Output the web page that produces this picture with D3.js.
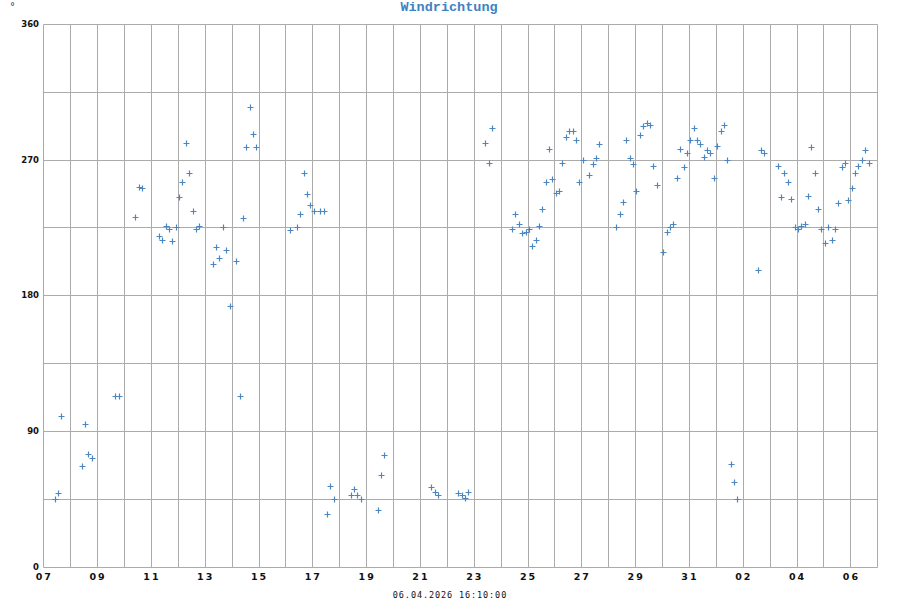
<!DOCTYPE html>
<html>
<head>
<meta charset="utf-8">
<script src="https://cdn.jsdelivr.net/npm/d3@7"></script>
<style>
  html, body { margin: 0; padding: 0; background: #fff; }
  svg { display: block; }
</style>
</head>
<body>
<svg id="chart" width="900" height="600"></svg>
<script>
const chartTitle = "Windrichtung";
const yUnit = "°";
const footerText = "06.04.2026 16:10:00";
const xDomain = ["2026-03-07 00:00", "2026-04-07 00:00"];
const xTickDates = ["2026-03-07","2026-03-09","2026-03-11","2026-03-13","2026-03-15","2026-03-17","2026-03-19","2026-03-21","2026-03-23","2026-03-25","2026-03-27","2026-03-29","2026-03-31","2026-04-02","2026-04-04","2026-04-06"];
const yTickLabels = [0, 90, 180, 270, 360];
const yGridValues = [0, 45, 90, 135, 180, 225, 270, 315, 360];

const times = [
"2026-03-07 10:10","2026-03-07 13:10","2026-03-07 16:10",
"2026-03-08 10:10","2026-03-08 13:10","2026-03-08 16:10","2026-03-08 19:10",
"2026-03-09 16:10","2026-03-09 19:10",
"2026-03-10 10:10","2026-03-10 13:10","2026-03-10 16:10",
"2026-03-11 07:10","2026-03-11 10:10","2026-03-11 13:10","2026-03-11 16:10","2026-03-11 19:10","2026-03-11 22:10",
"2026-03-12 01:10","2026-03-12 04:10","2026-03-12 07:10","2026-03-12 10:10","2026-03-12 13:10","2026-03-12 16:10","2026-03-12 19:10",
"2026-03-13 07:10","2026-03-13 10:10","2026-03-13 13:10","2026-03-13 16:10","2026-03-13 19:10","2026-03-13 22:10",
"2026-03-14 04:10","2026-03-14 07:10","2026-03-14 10:10","2026-03-14 13:10","2026-03-14 16:10","2026-03-14 19:10","2026-03-14 22:10",
"2026-03-16 04:10","2026-03-16 10:10","2026-03-16 13:10","2026-03-16 16:10","2026-03-16 19:10","2026-03-16 22:10",
"2026-03-17 01:10","2026-03-17 07:10","2026-03-17 10:10","2026-03-17 13:10","2026-03-17 16:10","2026-03-17 19:10",
"2026-03-18 10:10","2026-03-18 13:10","2026-03-18 16:10","2026-03-18 19:10",
"2026-03-19 10:10","2026-03-19 13:10","2026-03-19 16:10",
"2026-03-21 10:10","2026-03-21 13:10","2026-03-21 16:10",
"2026-03-22 10:10","2026-03-22 13:10","2026-03-22 16:10","2026-03-22 19:10",
"2026-03-23 10:10","2026-03-23 13:10","2026-03-23 16:10",
"2026-03-24 10:10","2026-03-24 13:10","2026-03-24 16:10","2026-03-24 19:10","2026-03-24 22:10",
"2026-03-25 01:10","2026-03-25 04:10","2026-03-25 07:10","2026-03-25 10:10","2026-03-25 13:10","2026-03-25 16:10","2026-03-25 19:10","2026-03-25 22:10",
"2026-03-26 01:10","2026-03-26 04:10","2026-03-26 07:10","2026-03-26 10:10","2026-03-26 13:10","2026-03-26 16:10","2026-03-26 19:10","2026-03-26 22:10",
"2026-03-27 01:10","2026-03-27 07:10","2026-03-27 10:10","2026-03-27 13:10","2026-03-27 16:10",
"2026-03-28 07:10","2026-03-28 10:10","2026-03-28 13:10","2026-03-28 16:10","2026-03-28 19:10","2026-03-28 22:10",
"2026-03-29 01:10","2026-03-29 04:10","2026-03-29 07:10","2026-03-29 10:10","2026-03-29 13:10","2026-03-29 16:10","2026-03-29 19:10",
"2026-03-30 01:10","2026-03-30 04:10","2026-03-30 07:10","2026-03-30 10:10","2026-03-30 13:10","2026-03-30 16:10","2026-03-30 19:10","2026-03-30 22:10",
"2026-03-31 01:10","2026-03-31 04:10","2026-03-31 07:10","2026-03-31 10:10","2026-03-31 13:10","2026-03-31 16:10","2026-03-31 19:10","2026-03-31 22:10",
"2026-04-01 01:10","2026-04-01 04:10","2026-04-01 07:10","2026-04-01 10:10","2026-04-01 13:10","2026-04-01 16:10","2026-04-01 19:10",
"2026-04-02 13:10","2026-04-02 16:10","2026-04-02 19:10",
"2026-04-03 07:10","2026-04-03 10:10","2026-04-03 13:10","2026-04-03 16:10","2026-04-03 19:10","2026-04-03 22:10",
"2026-04-04 01:10","2026-04-04 04:10","2026-04-04 07:10","2026-04-04 10:10","2026-04-04 13:10","2026-04-04 16:10","2026-04-04 19:10","2026-04-04 22:10",
"2026-04-05 01:10","2026-04-05 04:10","2026-04-05 07:10","2026-04-05 10:10","2026-04-05 13:10","2026-04-05 16:10","2026-04-05 19:10","2026-04-05 22:10",
"2026-04-06 01:10","2026-04-06 04:10","2026-04-06 07:10","2026-04-06 10:10","2026-04-06 13:10","2026-04-06 16:10"
];

const directions = [
45, 49, 100,
67, 95, 75, 72,
113, 113,
232, 252, 251,
219, 217, 226, 224, 216, 225,
245, 255, 281, 261, 236, 224, 226,
201, 212, 205, 225, 210, 173,
203, 113, 231, 278, 305, 287, 278,
223, 225, 234, 261, 247, 240,
236, 236, 236, 35, 54, 45,
48, 52, 48, 45,
38, 61, 74,
53, 50, 48,
49, 48, 46, 50,
281, 268, 291,
224, 234, 227, 221, 222,
224, 213, 217, 226, 237, 255, 277, 257,
248, 249, 268, 285, 289, 289, 283, 255,
270, 260, 267, 271, 280,
225, 234, 242, 283, 271, 267,
249, 286, 292, 294, 293, 266, 253,
209, 222, 225, 227, 258, 277, 265, 274,
283, 291, 283, 280, 272, 276, 274, 258,
279, 289, 293, 270, 68, 56, 45,
197, 276, 274,
266, 245, 261, 255, 244, 225,
224, 226, 227, 246, 278, 261, 237, 224,
215, 225, 217, 224, 241, 265, 268, 243,
251, 261, 266, 270, 276, 268
];

const parseTime = d3.timeParse("%Y-%m-%d %H:%M");
const parseDay = d3.timeParse("%Y-%m-%d");
const data = times.map((t, i) => ({ t: parseTime(t), v: directions[i] }));

const plotLeft = 43.3, plotRight = 877.3, plotTop = 23.7, plotBottom = 567;
const x = d3.scaleTime().domain(xDomain.map(parseTime)).range([plotLeft, plotRight]);
const y = d3.scaleLinear().domain([0, 360]).range([plotBottom, plotTop]);
const crisp = v => Math.round(v) + 0.5;

const svg = d3.select("#chart");
const gridColor = "#ababab";

// vertical day gridlines
const days = d3.timeDay.range(x.domain()[0], d3.timeDay.offset(x.domain()[1], 1));
svg.append("g").selectAll("line").data(days).join("line")
  .attr("x1", d => crisp(x(d))).attr("x2", d => crisp(x(d)))
  .attr("y1", crisp(y(360))).attr("y2", crisp(y(0)))
  .attr("stroke", gridColor).attr("stroke-width", 1);

// horizontal gridlines
svg.append("g").selectAll("line").data(yGridValues).join("line")
  .attr("x1", crisp(plotLeft)).attr("x2", crisp(plotRight))
  .attr("y1", d => crisp(y(d))).attr("y2", d => crisp(y(d)))
  .attr("stroke", gridColor).attr("stroke-width", 1);

// y tick labels
svg.append("g").selectAll("text").data(yTickLabels).join("text")
  .attr("x", 39).attr("y", d => y(d) + 3)
  .attr("text-anchor", "end")
  .attr("font-family", "DejaVu Sans, sans-serif")
  .attr("font-weight", "bold").attr("font-size", "8.5px")
  .attr("fill", "#111")
  .text(d => d);

// x tick labels
const fmtDay = d3.timeFormat("%d");
svg.append("g").selectAll("text").data(xTickDates.map(parseDay)).join("text")
  .attr("x", d => x(d) + 1).attr("y", 579.5)
  .attr("text-anchor", "middle")
  .attr("font-family", "DejaVu Sans, sans-serif")
  .attr("font-weight", "bold").attr("font-size", "9.5px")
  .attr("letter-spacing", "2px")
  .attr("fill", "#111")
  .text(d => fmtDay(d));

// unit label
svg.append("text")
  .attr("x", 10).attr("y", 10)
  .attr("font-family", "DejaVu Sans, sans-serif").attr("font-size", "10px")
  .attr("fill", "#333")
  .text(yUnit);

// title
svg.append("text")
  .attr("x", 449).attr("y", 11)
  .attr("text-anchor", "middle")
  .attr("font-family", "Liberation Mono, Courier New, monospace")
  .attr("font-weight", "bold").attr("font-size", "13.5px")
  .attr("fill", "#3d82c2")
  .text(chartTitle);

// footer
svg.append("text")
  .attr("x", 450).attr("y", 597.5)
  .attr("text-anchor", "middle")
  .attr("font-family", "DejaVu Sans Mono, monospace")
  .attr("font-size", "8.5px").attr("letter-spacing", "0.9px")
  .attr("fill", "#111")
  .text(footerText);

// points as '+' marks
const s = 3;
svg.append("g").selectAll("path").data(data).join("path")
  .attr("d", d => {
    const cx = Math.round(x(d.t)) + 0.5, cy = Math.round(y(d.v)) + 0.5;
    return `M${cx - s},${cy}H${cx + s}M${cx},${cy - s}V${cy + s}`;
  })
  .attr("stroke", "#4a87c2").attr("stroke-width", 1.2).attr("fill", "none");
</script>
</body>
</html>
